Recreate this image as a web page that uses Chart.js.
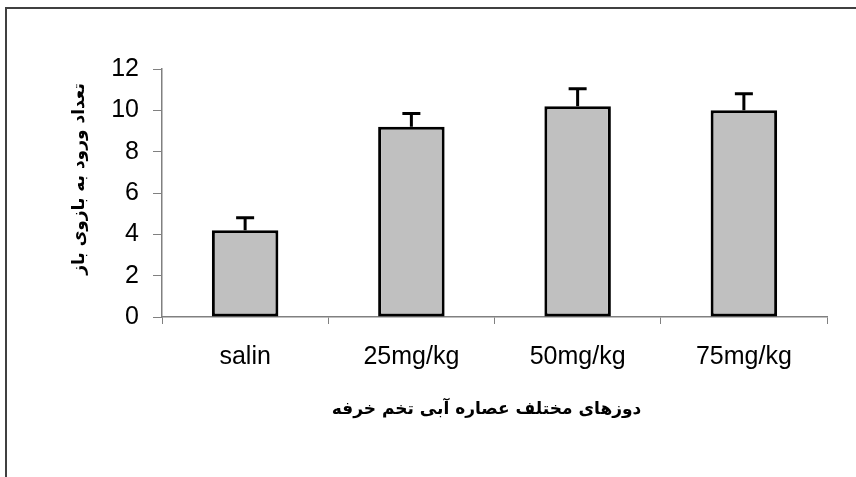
<!DOCTYPE html>
<html>
<head>
<meta charset="utf-8">
<script src="https://cdn.jsdelivr.net/npm/chart.js@4.4.1/dist/chart.umd.min.js"></script>
<style>
  body { margin: 0; background: #fff; }
  #wrap { position: relative; width: 856px; height: 477px; }
  #frame { position: absolute; left: 5px; top: 7px; right: -4px; bottom: -4px;
           border-left: 2px solid #404040; border-top: 2px solid #404040; pointer-events: none; }
</style>
</head>
<body>
<div id="wrap">
  <canvas id="graph1" width="856" height="477"></canvas>
  <div id="frame"></div>
</div>
<script>
// data
var doses = ["salin", "25mg/kg", "50mg/kg", "75mg/kg"];
var entries = [4.2, 9.2, 10.2, 10.0];
var errors = [0.6, 0.65, 0.85, 0.8];
var yTicks = [0, 2, 4, 6, 8, 10, 12];
var xTitle = "دوزهای مختلف عصاره آبی تخم خرفه";
var yTitle = "تعداد ورود به بازوی باز";

// error bars on top of each bar
const errorBars = {
    id: 'errorBars',
    afterDatasetsDraw(chart) {
        let ctx = chart.ctx;
        let meta = chart.getDatasetMeta(0);
        let y = chart.scales.y;
        ctx.save();
        ctx.strokeStyle = '#000';
        ctx.lineWidth = 3;
        meta.data.forEach(function (bar, i) {
            let top = y.getPixelForValue(entries[i]);
            let cap = y.getPixelForValue(entries[i] + errors[i]);
            ctx.beginPath();
            ctx.moveTo(bar.x, top);
            ctx.lineTo(bar.x, cap);
            ctx.moveTo(bar.x - 9, cap);
            ctx.lineTo(bar.x + 9, cap);
            ctx.stroke();
        });
        ctx.restore();
    }
};

// axis titles (persian, bold)
const axisTitles = {
    id: 'axisTitles',
    afterDraw(chart) {
        let ctx = chart.ctx;
        let area = chart.chartArea;
        ctx.save();
        ctx.fillStyle = '#000';
        ctx.font = 'bold 17px "DejaVu Sans"';
        ctx.textAlign = 'center';
        ctx.textBaseline = 'middle';
        ctx.direction = 'rtl';
        ctx.fillText(xTitle, (area.left + area.right) / 2 - 8, 410);
        ctx.translate(80, 179);
        ctx.rotate(-Math.PI / 2);
        ctx.fillText(yTitle, 0, 0);
        ctx.restore();
    }
};

let graph1 = document.getElementById('graph1').getContext('2d');
const myChart = new Chart(graph1, {
    type: 'bar',
    data: {
        labels: doses,
        datasets: [{
            data: entries,
            backgroundColor: '#c0c0c0',
            borderColor: '#000',
            borderWidth: 3,
            borderSkipped: false,
            barPercentage: 0.4,
            categoryPercentage: 1
        }]
    },
    options: {
        responsive: false,
        animation: false,
        layout: {
            padding: { left: 0, top: 69, right: 29, bottom: 0 }
        },
        scales: {
            x: {
                afterFit: function (scale) { scale.height = 160; },
                grid: { drawOnChartArea: false, offset: true, color: '#808080', tickLength: 7 },
                border: { color: '#808080', width: 1.5 },
                ticks: {
                    color: '#000',
                    padding: 18,
                    font: { family: 'Liberation Sans', size: 25 }
                }
            },
            y: {
                min: 0,
                max: 12,
                afterFit: function (scale) { scale.width = 162; },
                afterBuildTicks: function (scale) {
                    scale.ticks = yTicks.map(function (v) { return { value: v }; });
                },
                grid: { drawOnChartArea: false, color: '#808080', tickLength: 9 },
                border: { color: '#808080', width: 1.5 },
                ticks: {
                    color: '#000',
                    padding: 14,
                    font: { family: 'Liberation Sans', size: 25 }
                }
            }
        },
        plugins: {
            legend: { display: false },
            tooltip: { enabled: false }
        }
    },
    plugins: [errorBars, axisTitles]
});
</script>
</body>
</html>
